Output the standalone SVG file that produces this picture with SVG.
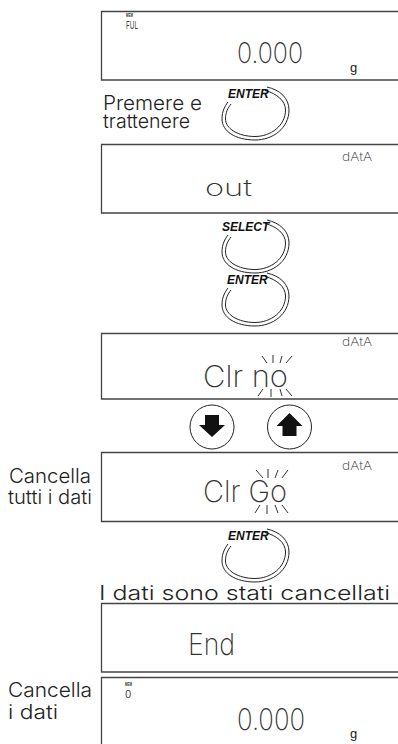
<svg xmlns="http://www.w3.org/2000/svg" xmlns:xlink="http://www.w3.org/1999/xlink" width="398" height="744" viewBox="0 0 398 744">
<style>
.box{fill:none;stroke:#444;stroke-width:1.3}
.lbl{font-family:Inter,"Liberation Sans",Arial,sans-serif;font-weight:300;font-size:20px;fill:#222}
.lcd{font-family:Inter,"DejaVu Sans",sans-serif;font-weight:200;fill:#333}
.lcds{font-family:Inter,"DejaVu Sans",sans-serif;font-weight:400;fill:#444}
.btn{font-family:"Liberation Sans",Arial,sans-serif;font-weight:bold;font-style:italic;font-size:12px;fill:#111}
.ring{fill:none;stroke:#222;stroke-width:1}
.blink{stroke:#333;stroke-width:1;fill:none}
.mem{font-family:"Liberation Sans",Arial,sans-serif;font-weight:bold;font-size:5px;fill:#333}
.unit{font-family:"Liberation Sans",Arial,sans-serif;font-size:13px;fill:#222}
.circ{fill:#fff;stroke:#222;stroke-width:1}
</style>
<defs>
<g id="ringShape">
<path class="ring" d="M 12 -11 C 25 -8, 34 0, 34 12 C 34 30, 18 42, 0 42 C -20 42, -33 33, -33 21 C -33 13, -30 8, -27 4"/>
<path class="ring" d="M 10 -7.5 C 22 -4.5, 30.5 3, 30.5 12 C 30.5 27.5, 16 38.5, 0 38.5 C -17 38.5, -29.5 30.5, -29.5 21 C -29.5 14, -27 10, -24 6"/>
</g>
</defs>
<rect width="398" height="744" fill="#fff"/>

<g id="display1">
<path class="box" d="M398 11.5 H101.5 V80 H398"/>
<text class="mem" x="126" y="16.5" textLength="7" lengthAdjust="spacingAndGlyphs">MEM</text>
<text class="lcds" x="126" y="28.5" font-size="11" textLength="12" lengthAdjust="spacingAndGlyphs">FUL</text>
<text class="lcd" x="237" y="63" font-size="28" textLength="66" lengthAdjust="spacingAndGlyphs">0.000</text>
<text class="unit" x="350" y="72">g</text>
</g>

<g id="label-premere">
<text class="lbl" x="103" y="110" textLength="99" lengthAdjust="spacingAndGlyphs">Premere e</text>
<text class="lbl" x="103" y="128" textLength="87" lengthAdjust="spacingAndGlyphs">trattenere</text>
</g>

<g id="btn-enter1">
<use xlink:href="#ringShape" href="#ringShape" transform="translate(255,98)"/>
<text class="btn" x="228" y="98">ENTER</text>
</g>

<g id="display2">
<path class="box" d="M398 144.5 H101.5 V213 H398"/>
<text class="lcd" x="342" y="161" font-size="11" textLength="30" lengthAdjust="spacingAndGlyphs">dAtA</text>
<text class="lcd" x="205" y="196" font-size="23" textLength="47" lengthAdjust="spacingAndGlyphs">out</text>
</g>

<g id="btn-select">
<use xlink:href="#ringShape" href="#ringShape" transform="translate(255,231)"/>
<text class="btn" x="222" y="231">SELECT</text>
</g>

<g id="btn-enter2">
<use xlink:href="#ringShape" href="#ringShape" transform="translate(255,284)"/>
<text class="btn" x="227" y="284">ENTER</text>
</g>

<g id="display3">
<path class="box" d="M398 333.5 H101.5 V399 H398"/>
<text class="lcd" x="342" y="346" font-size="11" textLength="30" lengthAdjust="spacingAndGlyphs">dAtA</text>
<text class="lcd" x="203" y="387" font-size="30" textLength="85" lengthAdjust="spacingAndGlyphs">Clr no</text>
<path class="blink" d="M262 356 L267 363 M273 355 L273 363 M282 356 L280 363 M292 356 L286 363 M263 389 L258 396 M271 389 L271 397 M280 389 L282 396 M286 389 L292 396"/>
</g>

<g id="btn-down">
<circle class="circ" cx="212" cy="427" r="22"/>
<path d="M205 415 H219 V425 H225 L212 437 L199 425 H205 Z" fill="#111"/>
</g>

<g id="btn-up">
<circle class="circ" cx="289.5" cy="427" r="22"/>
<path d="M289.5 413 L302.5 426 H296.5 V436 H282.5 V426 H276.5 Z" fill="#111"/>
</g>

<g id="label-cancella-tutti">
<text class="lbl" x="9" y="483" textLength="82" lengthAdjust="spacingAndGlyphs">Cancella</text>
<text class="lbl" x="8" y="504" textLength="84" lengthAdjust="spacingAndGlyphs">tutti i dati</text>
</g>

<g id="display4">
<path class="box" d="M398 452.5 H101.5 V521.5 H398"/>
<text class="lcd" x="342" y="470" font-size="11" textLength="30" lengthAdjust="spacingAndGlyphs">dAtA</text>
<text class="lcd" x="203" y="502" font-size="30" textLength="84" lengthAdjust="spacingAndGlyphs">Clr Go</text>
<path class="blink" d="M256 470 L263 478 M268 469 L268 478 M278 470 L275 478 M288 470 L282 478 M260 505 L255 513 M267 505 L267 514 M275 505 L278 513 M282 505 L288 513"/>
</g>

<g id="btn-enter3">
<use xlink:href="#ringShape" href="#ringShape" transform="translate(255,540)"/>
<text class="btn" x="228" y="540">ENTER</text>
</g>

<g id="label-cancellati">
<text class="lbl" x="99" y="600" font-size="23" textLength="291" lengthAdjust="spacingAndGlyphs">I dati sono stati cancellati</text>
</g>

<g id="display5">
<path class="box" d="M398 603.5 H101.5 V672 H398"/>
<text class="lcd" x="188" y="655" font-size="30" textLength="47" lengthAdjust="spacingAndGlyphs">End</text>
</g>

<g id="label-cancella">
<text class="lbl" x="8" y="697" textLength="84" lengthAdjust="spacingAndGlyphs">Cancella</text>
<text class="lbl" x="8" y="719" textLength="50" lengthAdjust="spacingAndGlyphs">i dati</text>
</g>

<g id="display6">
<path class="box" d="M398 677.5 H101.5 V744"/>
<text class="mem" x="125" y="686" textLength="7" lengthAdjust="spacingAndGlyphs">MEM</text>
<text class="lcds" x="125" y="698" font-size="10">0</text>
<text class="lcd" x="237" y="730" font-size="30" textLength="68" lengthAdjust="spacingAndGlyphs">0.000</text>
<text class="unit" x="350" y="738">g</text>
</g>
</svg>
